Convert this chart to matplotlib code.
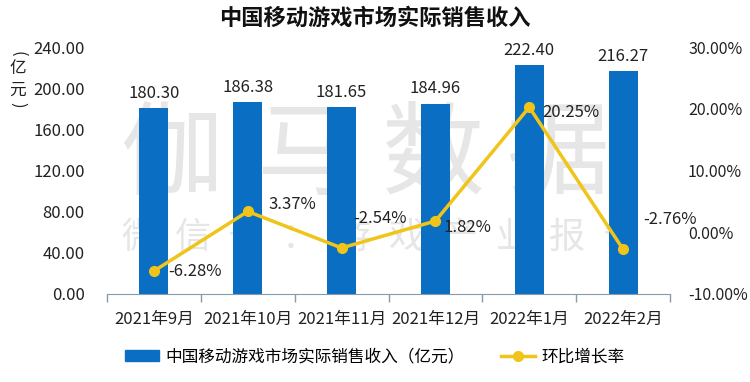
import numpy as np
import matplotlib
matplotlib.use("Agg")
from matplotlib import pyplot as plt
from matplotlib.lines import Line2D
from matplotlib.patches import Patch

plt.rcParams['font.family'] = ['Noto Sans CJK SC', 'DejaVu Sans']

# --- data ---
months = ["2021年9月", "2021年10月", "2021年11月", "2021年12月", "2022年1月", "2022年2月"]
revenue = [180.30, 186.38, 181.65, 184.96, 222.40, 216.27]
growth = [-6.28, 3.37, -2.54, 1.82, 20.25, -2.76]
left_ticks = [0, 40, 80, 120, 160, 200, 240]
right_ticks = [-10, 0, 10, 20, 30]

bar_color = "#0A6FC2"
line_color = "#F0C419"
text_color = "#222222"
wm_color = "#E6E6E6"

W, H = 750, 382
fig = plt.figure(figsize=(7.5, 3.82), dpi=100)
ax = fig.add_axes([107 / W, 1 - 294 / H, (670 - 107) / W, (294 - 47) / H])
ax2 = ax.twinx()
ax.set_zorder(1)
ax2.set_zorder(2)
ax.patch.set_visible(False)
ax2.patch.set_visible(False)

# 水印 (背景)
for cx, ch in zip([171, 308, 433, 558], "伽马数据"):
    fig.text(cx / W, 1 - 157 / H, ch, fontsize=74, color=wm_color, ha="center",
             va="center", zorder=-1, fontweight="light")
for i, ch in enumerate("微信号：游戏产业报告"):
    fig.text((139 + 53.5 * i) / W, 1 - 238 / H, ch, fontsize=26, color=wm_color,
             ha="center", va="center", zorder=-1, fontweight="light")

x = np.arange(len(months))
ax.bar(x, revenue, width=0.31, color=bar_color, zorder=2)
for xi, v in zip(x, revenue):
    ax.text(xi, v + 6, f"{v:.2f}", ha="center", va="bottom", fontsize=12, color=text_color)

ax.set_xlim(-0.5, len(months) - 0.5)
ax.set_ylim(0, 240)
ax.set_yticks(left_ticks)
ax.set_yticklabels([f"{t:.2f}" for t in left_ticks], fontsize=12, color=text_color)
ax.set_xticks(x)
ax.set_xticklabels(months, fontsize=12, color=text_color)
ax.tick_params(axis="x", length=0, pad=12)
ax.tick_params(axis="y", length=0, pad=16)
ax.set_xticks(np.arange(-0.5, len(months)), minor=True)
ax.tick_params(axis="x", which="minor", length=6, color="#8899AA", width=1)
for s in ["top", "left", "right"]:
    ax.spines[s].set_visible(False)
ax.spines["bottom"].set_color("#8899AA")

ax2.plot(x, growth, color=line_color, lw=2.5, marker="o", ms=7, zorder=3)
ax2.set_ylim(-10, 30)
ax2.set_yticks(right_ticks)
ax2.set_yticklabels([f"{t:.2f}%" for t in right_ticks], fontsize=11.5, color=text_color)
ax2.tick_params(axis="y", length=0, pad=13)
for s in ["top", "left", "right", "bottom"]:
    ax2.spines[s].set_visible(False)

# 环比标签の位置 (pixels)
offsets = [(14, 0), (21, 7), (12, 29), (8, -6), (13, -5), (20, 30)]
for xi, g, (dx, dy) in zip(x, growth, offsets):
    ax2.annotate(f"{g:.2f}%", (xi, g), xytext=(dx, dy), textcoords="offset pixels",
                 ha="left", va="center", fontsize=12, color=text_color, zorder=4)

fig.text(0.5, 1 - 18 / H, "中国移动游戏市场实际销售收入", fontsize=16, fontweight="bold",
         ha="center", va="center", color="#111111")

# 纵轴单位 (竖排)
fig.text(18 / W, 1 - 54 / H, "(", fontsize=12, rotation=-90, ha="center", va="center", color=text_color)
fig.text(18 / W, 1 - 69 / H, "亿", fontsize=12, ha="center", va="center", color=text_color)
fig.text(18 / W, 1 - 90 / H, "元", fontsize=12, ha="center", va="center", color=text_color)
fig.text(18 / W, 1 - 105 / H, ")", fontsize=12, rotation=-90, ha="center", va="center", color=text_color)

handles = [Patch(color=bar_color), Line2D([0], [0], color=line_color, lw=2.5, marker="o", ms=7)]
fig.legend(handles, ["中国移动游戏市场实际销售收入（亿元）", "环比增长率"], loc="center",
           bbox_to_anchor=(0.5, 1 - 357 / H), ncol=2, frameon=False, fontsize=12,
           handlelength=2.0, handletextpad=0.4, columnspacing=2.2, handleheight=0.6)

fig.savefig("out.png", dpi=100)
